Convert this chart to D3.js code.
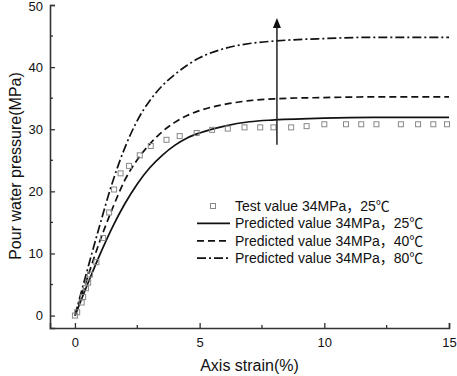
<!DOCTYPE html>
<html>
<head>
<meta charset="utf-8">
<script src="https://cdn.jsdelivr.net/npm/d3@7"></script>
<style>
  body { margin: 0; background: #fff; }
  text { font-family: Arial, "Liberation Sans", "Noto Sans CJK SC", sans-serif; fill: #111; }
</style>
</head>
<body>
<div id="chart"></div>
<script>
// test points, 34MPa 25C
var testStrain = [0, 0.09, 0.27, 0.33, 0.44, 0.53, 0.6, 0.86, 1.13, 1.37, 1.57, 1.83, 2.17, 2.6, 3.04, 3.67, 4.2, 4.88,
                  5.5, 6.13, 6.8, 7.43, 7.96, 8.67, 9.29, 10.0, 10.87, 11.48, 12.09, 13.07, 13.76, 14.37, 14.92];
var testPressure = [0, 0.53, 2.1, 3.0, 4.4, 5.3, 6.6, 8.6, 12.5, 16.6, 20.3, 22.9, 24.1, 25.8, 27.3, 28.3, 28.9, 29.4,
                    29.9, 30.1, 30.3, 30.3, 30.3, 30.3, 30.5, 30.8, 30.8, 30.8, 30.8, 30.8, 30.8, 30.8, 30.8];

// predicted 25C
var pred25Strain = [0, 0.5, 1, 1.5, 2, 2.5, 3, 3.5, 4, 4.5, 5, 6, 7, 8, 10, 12, 15];
var pred25Pressure = [0, 5.0, 9.8, 14.2, 18.0, 21.2, 23.8, 25.8, 27.4, 28.6, 29.4, 30.5, 31.2, 31.5, 31.8, 31.9, 31.9];

// predicted 40C
var pred40Strain = [0, 0.5, 1, 1.5, 2, 2.5, 3, 3.5, 4, 4.5, 5, 6, 7, 8, 10, 12, 15];
var pred40Pressure = [0, 6.1, 12.0, 17.2, 21.8, 25.1, 27.6, 29.6, 31.1, 32.2, 33.0, 34.0, 34.6, 34.9, 35.1, 35.2, 35.2];

// predicted 80C
var pred80Strain = [0, 0.5, 1, 1.5, 2, 2.5, 3, 3.5, 4, 4.5, 5, 6, 7, 8, 10, 12, 15];
var pred80Pressure = [0, 7.4, 14.6, 21.4, 27.0, 31.4, 34.6, 37.0, 38.8, 40.3, 41.5, 43.0, 43.8, 44.2, 44.6, 44.8, 44.8];

var xTicks = [0, 5, 10, 15];
var xMinor = [2.5, 7.5, 12.5];
var yTicks = [0, 10, 20, 30, 40, 50];
var yMinor = [5, 15, 25, 35, 45];

var legendLabels = ["Test value 34MPa\uff0c25\u2103",
                    "Predicted value 34MPa\uff0c25\u2103",
                    "Predicted value 34MPa\uff0c40\u2103",
                    "Predicted value 34MPa\uff0c80\u2103"];

// arrow annotation (strain, from pressure, to pressure)
var arrowX = 8.1, arrowFrom = 27.5, arrowTo = 47.9;

var width = 457, height = 376;

var x = d3.scaleLinear().domain([-1, 15]).range([50, 449]);
var y = d3.scaleLinear().domain([-2, 50]).range([328, 5]);

var svg = d3.select("#chart").append("svg")
    .attr("width", width)
    .attr("height", height);

function zip(a, b) {
    return a.map(function(v, i) { return [v, b[i]]; });
}

var line = d3.line()
    .x(function(d) { return x(d[0]); })
    .y(function(d) { return y(d[1]); })
    .curve(d3.curveMonotoneX);

var styles = [
    {dash: null},
    {dash: "7,4"},
    {dash: "9,3,2,3"}
];

// predicted curves
[zip(pred25Strain, pred25Pressure), zip(pred40Strain, pred40Pressure), zip(pred80Strain, pred80Pressure)]
.forEach(function(s, i) {
    svg.append("path")
        .attr("d", line(s))
        .attr("fill", "none")
        .attr("stroke", "#111")
        .attr("stroke-width", 1.7)
        .attr("stroke-dasharray", styles[i].dash);
});

// test squares
svg.selectAll("rect.pt")
    .data(zip(testStrain, testPressure))
    .enter().append("rect")
    .attr("class", "pt")
    .attr("x", function(d) { return x(d[0]) - 2.5; })
    .attr("y", function(d) { return y(d[1]) - 2.5; })
    .attr("width", 5)
    .attr("height", 5)
    .attr("fill", "none")
    .attr("stroke", "#888")
    .attr("stroke-width", 1);

// arrow
svg.append("line")
    .attr("x1", x(arrowX)).attr("x2", x(arrowX))
    .attr("y1", y(arrowFrom)).attr("y2", y(arrowTo) + 8)
    .attr("stroke", "#222")
    .attr("stroke-width", 1.5);
svg.append("path")
    .attr("d", "M" + x(arrowX) + "," + y(arrowTo) + "l-4,10l8,0z")
    .attr("fill", "#111");

// axis-x
var gx = svg.append("g")
    .attr("transform", "translate(0," + y(-2) + ")")
    .call(d3.axisBottom(x).tickValues(xTicks).tickSize(-5).tickPadding(10).tickFormat(d3.format("d")));
gx.append("g").selectAll("line").data(xMinor).enter().append("line")
    .attr("x1", function(d) { return x(d); }).attr("x2", function(d) { return x(d); })
    .attr("y1", 0).attr("y2", -3);

// axis-y
var gy = svg.append("g")
    .attr("transform", "translate(" + x(-1) + ",0)")
    .call(d3.axisLeft(y).tickValues(yTicks).tickSize(-5).tickPadding(7).tickFormat(d3.format("d")));
gy.append("g").selectAll("line").data(yMinor).enter().append("line")
    .attr("y1", function(d) { return y(d); }).attr("y2", function(d) { return y(d); })
    .attr("x1", 0).attr("x2", 3);

[gx, gy].forEach(function(g) {
    g.selectAll("line").attr("stroke", "#333").attr("stroke-width", 1.3);
    g.select(".domain").attr("stroke", "#333").attr("stroke-width", 1.6);
    g.selectAll("text").attr("font-size", "13px").attr("fill", "#111")
        .attr("font-family", "Arial, 'Liberation Sans', sans-serif");
});
gy.selectAll(".tick text").filter(function(d) { return d === 50; }).attr("dy", "0.38em").attr("y", 1);

// axis titles
svg.append("text")
    .attr("x", (x(-1) + x(15)) / 2)
    .attr("y", 371)
    .attr("text-anchor", "middle")
    .attr("font-size", "16px")
    .text("Axis strain(%)");

svg.append("text")
    .attr("transform", "translate(21," + 166 + ") rotate(-90)")
    .attr("text-anchor", "middle")
    .attr("font-size", "16px")
    .text("Pour water pressure(MPa)");

// legend
var leg = svg.append("g");
legendLabels.forEach(function(lbl, i) {
    var cy = 206 + i * 17.4;
    if (i === 0) {
        leg.append("rect")
            .attr("x", 213 - 2.5).attr("y", cy - 2.5)
            .attr("width", 5).attr("height", 5)
            .attr("fill", "none").attr("stroke", "#888");
    } else {
        leg.append("line")
            .attr("x1", 197).attr("x2", 230)
            .attr("y1", cy).attr("y2", cy)
            .attr("stroke", "#111")
            .attr("stroke-width", 1.7)
            .attr("stroke-dasharray", styles[i - 1].dash);
    }
    leg.append("text")
        .attr("x", 235)
        .attr("y", cy + 5)
        .attr("font-size", "14px")
        .text(lbl);
});
</script>
</body>
</html>
